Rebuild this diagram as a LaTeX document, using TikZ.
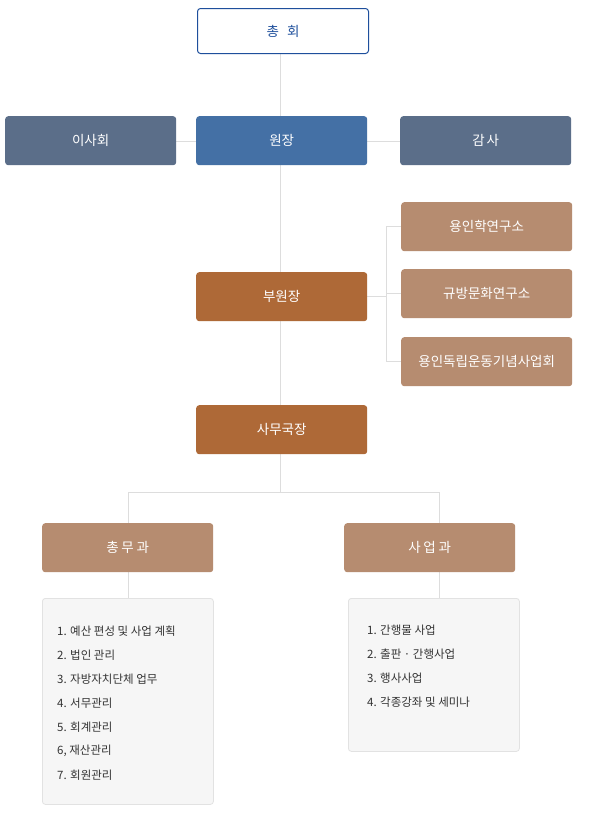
\documentclass[tikz,border=0pt]{standalone}
\usepackage{fontspec}
\setmainfont{Noto Sans CJK KR}
\newfontfamily\kr{Noto Sans CJK KR}
\begin{document}
\begin{tikzpicture}[x=1pt,y=-1pt,
  box/.style={rounded corners=3pt,minimum width=171pt,minimum height=49pt,inner sep=0pt,text=white,font=\kr\fontsize{13.5}{16}\selectfont,anchor=north west},
  navy/.style={box,fill=navyc},
  blue/.style={box,fill=bluec},
  rust/.style={box,fill=rustc},
  tan/.style={box,fill=tanc},
  listbox/.style={rounded corners=3pt,draw=boxline,fill=boxfill,line width=0.8pt,anchor=north west,minimum width=171pt,inner sep=0pt},
  item/.style={anchor=west,inner sep=0pt,font=\kr\fontsize{11.5}{14}\selectfont,text=itemc},
  con/.style={draw=linec,line width=0.9pt}]
\definecolor{navyc}{HTML}{5B6E89}
\definecolor{bluec}{HTML}{4470A5}
\definecolor{rustc}{HTML}{AE6937}
\definecolor{tanc}{HTML}{B68C70}
\definecolor{boxline}{HTML}{E2E2E2}
\definecolor{boxfill}{HTML}{F6F6F6}
\definecolor{linec}{HTML}{DDDDDD}
\definecolor{itemc}{HTML}{333333}
\definecolor{topc}{HTML}{1E4F9C}
\useasboundingbox (0,0) rectangle (599,819);
\fill[white] (0,0) rectangle (599,819);
% connectors first
\coordinate (vtop) at (280,53);
\coordinate (vbot) at (280,492);
\coordinate (hl) at (128,492);
\coordinate (hr) at (439,492);
\coordinate (b1) at (386,226);
\coordinate (b2) at (386,293);
\coordinate (b3) at (386,361);
\draw[con] (vtop) -- (vbot);
\draw[con] (166,141) -- (400,141);
\draw[con] (hl) -- (hr);
\draw[con] (hl) -- (128,523);
\draw[con] (hr) -- (439,523);
\draw[con] (128,572) -- (128,598);
\draw[con] (439,572) -- (439,598);
\draw[con] (b1) -- (b3);
\draw[con] (367,296) -- (386,296);
\draw[con] (b1) -- (401,226);
\draw[con] (b2) -- (401,293);
\draw[con] (b3) -- (401,361);
% nodes
\node[box,draw=topc,line width=1pt,fill=white,text=topc,minimum width=171pt,minimum height=45pt] (chong) at (197,8) {총\hspace{0.6em}회};
\node[navy] (isa) at (5,116) {이사회};
\node[blue] (won) at (196,116) {원장};
\node[navy] (gam) at (400,116) {감\hspace{0.15em}사};
\node[rust] (bu) at (196,272) {부원장};
\node[tan] (r1) at (401,202) {용인학연구소};
\node[tan] (r2) at (401,269) {규방문화연구소};
\node[tan] (r3) at (401,337) {용인독립운동기념사업회};
\node[rust] (sa) at (196,405) {사무국장};
\node[tan] (cm) at (42,523) {총\hspace{0.2em}무\hspace{0.2em}과};
\node[tan] (se) at (344,523) {사\hspace{0.2em}업\hspace{0.2em}과};
\node[listbox,minimum height=206pt] (lb1) at (42,598) {};
\node[listbox,minimum height=153pt] (lb2) at (348,598) {};
\foreach \t [count=\i from 0] in {1. 예산 편성 및 사업 계획,2. 법인 관리,3. 자방자치단체 업무,4. 서무관리,5. 회계관리,{6, 재산관리},7. 회원관리}
  \node[item] (l\i) at (57,631+24*\i) {\t};
\foreach \t [count=\i from 0] in {1. 간행물 사업,2. 출판 · 간행사업,3. 행사사업,4. 각종강좌 및 세미나}
  \node[item] (m\i) at (367,630+24*\i) {\t};
\end{tikzpicture}
\end{document}
